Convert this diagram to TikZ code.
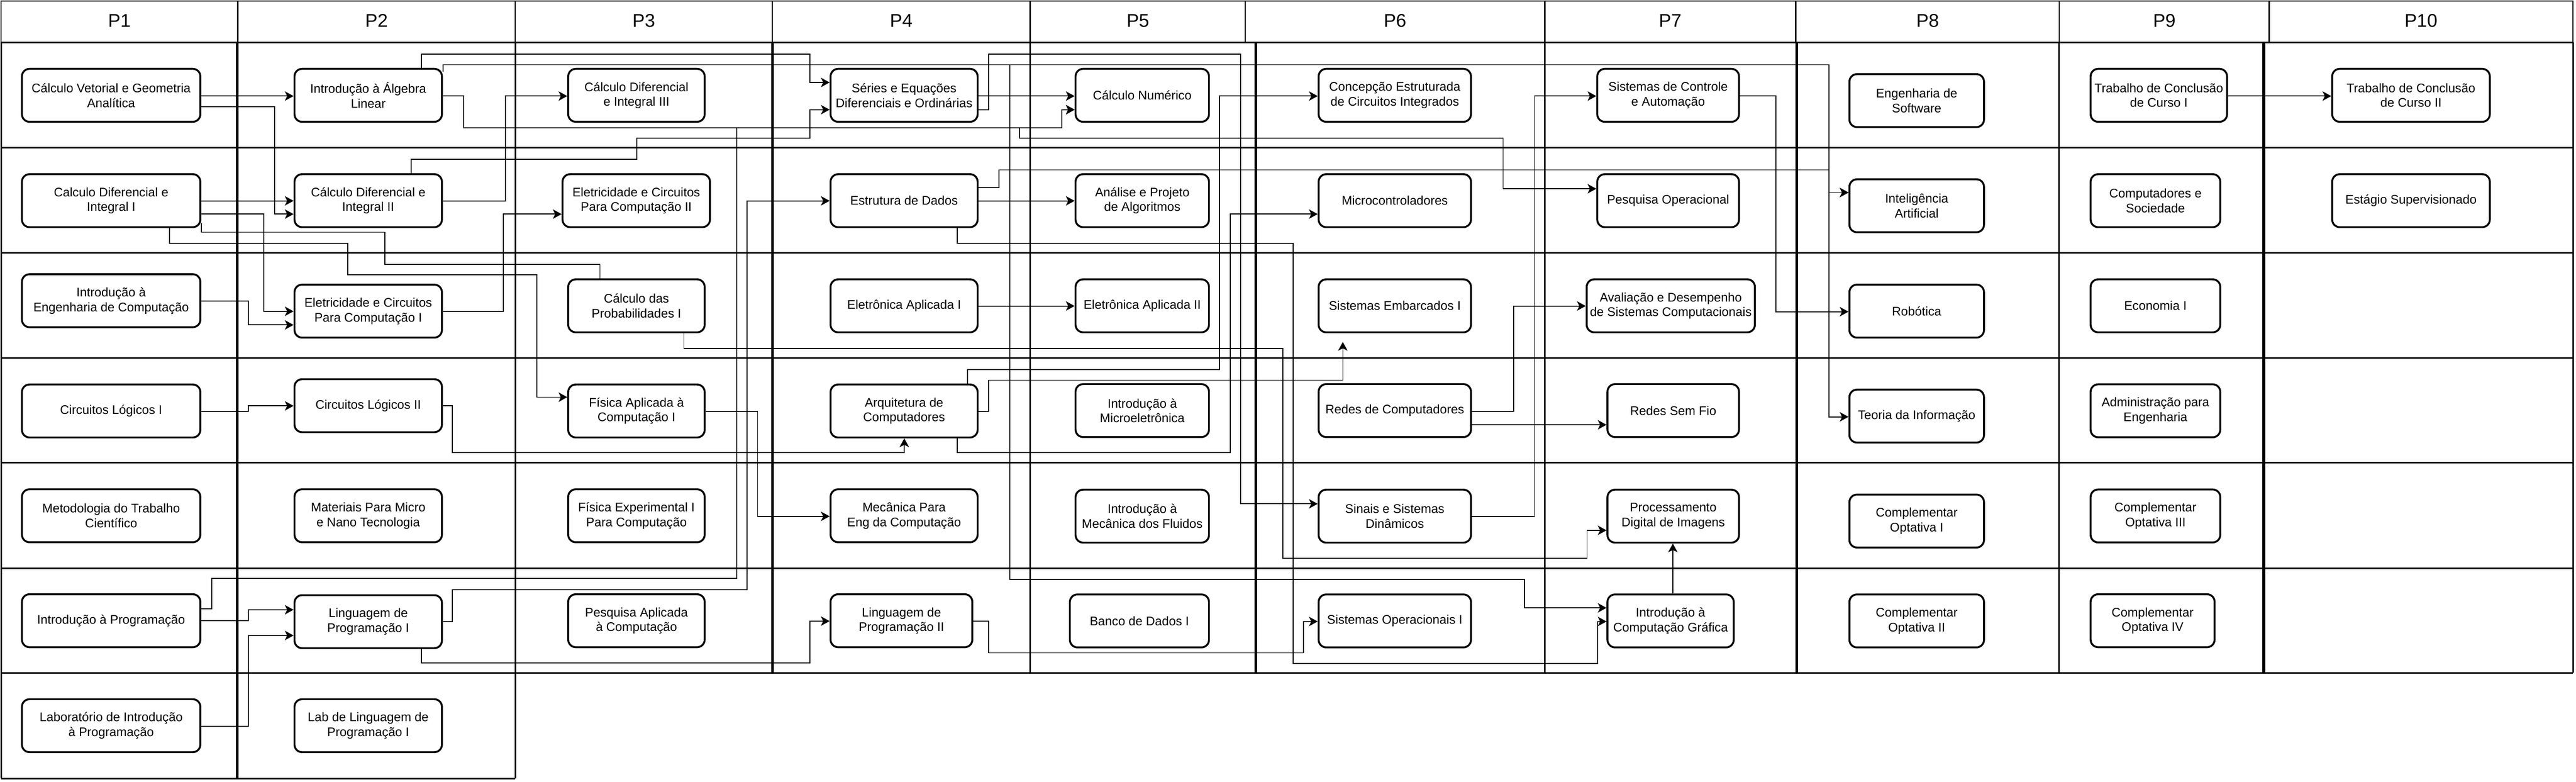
\documentclass[tikz,border=0pt]{standalone}
\usepackage{fontspec}
\setmainfont{Liberation Sans}
\usetikzlibrary{arrows.meta}

\begin{document}
\begin{tikzpicture}[x=1cm,y=-1cm,
	grade/.style={line width=0.4mm},
	gradeforte/.style={line width=0.7mm},
	disc/.style={draw,line width=0.5mm,rounded corners=2mm,fill=white,align=center,inner sep=0pt,minimum height=1.4cm,font=\fontsize{9.4}{11.1}\selectfont},
	periode/.style={font=\fontsize{13.9}{16}\selectfont},
	liga/.style={line width=0.25mm,-{Stealth[length=2.3mm,width=2.5mm,inset=0.6mm]}},
	ligasimples/.style={line width=0.25mm}]
\useasboundingbox (0,0) rectangle (68.14,20.67);
%					Tracé des en-têtes :
\draw[line width=0.35mm] (0.03,0.03) rectangle (68.06,1.12);
\draw[line width=0.35mm] (6.29,0.03) -- (6.29,1.12);
\draw[line width=0.35mm] (13.63,0.03) -- (13.63,1.12);
\draw[line width=0.35mm] (20.43,0.03) -- (20.43,1.12);
\draw[line width=0.35mm] (27.25,0.03) -- (27.25,1.12);
\draw[line width=0.35mm] (32.94,0.03) -- (32.94,1.12);
\draw[line width=0.35mm] (40.86,0.03) -- (40.86,1.12);
\draw[line width=0.35mm] (47.50,0.03) -- (47.50,1.12);
\draw[line width=0.35mm] (54.47,0.03) -- (54.47,1.12);
\draw[line width=0.35mm] (60.02,0.03) -- (60.02,1.12);
\node[periode] (h1) at (3.16,0.55) {P1};
\node[periode] (h2) at (9.96,0.55) {P2};
\node[periode] (h3) at (17.03,0.55) {P3};
\node[periode] (h4) at (23.84,0.55) {P4};
\node[periode] (h5) at (30.10,0.55) {P5};
\node[periode] (h6) at (36.90,0.55) {P6};
\node[periode] (h7) at (44.18,0.55) {P7};
\node[periode] (h8) at (50.99,0.55) {P8};
\node[periode] (h9) at (57.25,0.55) {P9};
\node[periode] (h10) at (64.04,0.55) {P10};
%					Tracé des lignes :
\draw[grade] (0.03,1.12) -- (68.06,1.12);
\draw[grade] (0.03,3.90) -- (68.06,3.90);
\draw[grade] (0.03,6.68) -- (68.06,6.68);
\draw[grade] (0.03,9.46) -- (68.06,9.46);
\draw[grade] (0.03,12.23) -- (68.06,12.23);
\draw[grade] (0.03,15.02) -- (68.06,15.02);
\draw[grade] (0.03,17.79) -- (68.06,17.79);
\draw[grade] (0.03,20.58) -- (13.63,20.58);
%					Tracé des colonnes :
\draw[grade] (0.03,1.12) -- (0.03,20.58);
\draw[gradeforte] (6.28,1.12) -- (6.28,20.58);
\draw[grade] (13.63,1.12) -- (13.63,20.58);
\draw[gradeforte] (20.43,1.12) -- (20.43,17.79);
\draw[grade] (27.25,1.12) -- (27.25,17.79);
\draw[gradeforte] (33.22,1.12) -- (33.22,17.79);
\draw[grade] (40.86,1.12) -- (40.86,17.79);
\draw[gradeforte] (47.53,1.12) -- (47.53,17.79);
\draw[grade] (54.47,1.12) -- (54.47,17.79);
\draw[gradeforte] (59.88,1.12) -- (59.88,17.79);
\draw[grade] (68.06,1.12) -- (68.06,17.79);
%					P1 :
\node[disc,minimum width=4.72cm] (cvga) at (2.94,2.52) {Cálculo Vetorial e Geometria\\Analítica};
\node[disc,minimum width=4.72cm] (cdi) at (2.94,5.305) {Calculo Diferencial e\\Integral I};
\node[disc,minimum width=4.72cm] (ieng) at (2.94,7.95) {Introdução à\\Engenharia de Computação};
\node[disc,minimum width=4.72cm] (cl1) at (2.94,10.865) {Circuitos Lógicos I};
\node[disc,minimum width=4.72cm] (mtc) at (2.94,13.635) {Metodologia do Trabalho\\Científico};
\node[disc,minimum width=4.72cm] (iprog) at (2.94,16.41) {Introdução à Programação};
\node[disc,minimum width=4.72cm] (lip) at (2.94,19.185) {Laboratório de Introdução\\à Programação};
%					P2 :
\node[disc,minimum width=3.90cm] (ial) at (9.74,2.52) {Introdução à Álgebra\\Linear};
\node[disc,minimum width=3.90cm] (cdi2) at (9.74,5.305) {Cálculo Diferencial e\\Integral II};
\node[disc,minimum width=3.90cm] (eci) at (9.74,8.225) {Eletricidade e Circuitos\\Para Computação I};
\node[disc,minimum width=3.90cm] (cl2) at (9.74,10.725) {Circuitos Lógicos II};
\node[disc,minimum width=3.90cm] (mmn) at (9.74,13.635) {Materiais Para Micro\\e Nano Tecnologia};
\node[disc,minimum width=3.90cm] (lp1) at (9.74,16.435) {Linguagem de\\Programação I};
\node[disc,minimum width=3.90cm] (llp) at (9.74,19.185) {Lab de Linguagem de\\Programação I};
%					P3 :
\node[disc,minimum width=3.61cm] (cdi3) at (16.835,2.52) {Cálculo Diferencial\\e Integral III};
\node[disc,minimum width=3.90cm] (ecii) at (16.83,5.305) {Eletricidade e Circuitos\\Para Computação II};
\node[disc,minimum width=3.61cm] (cp) at (16.835,8.085) {Cálculo das\\Probabilidades I};
\node[disc,minimum width=3.61cm] (fac) at (16.835,10.865) {Física Aplicada à\\Computação I};
\node[disc,minimum width=3.61cm] (fexp) at (16.835,13.635) {Física Experimental I\\Para Computação};
\node[disc,minimum width=3.61cm] (pac) at (16.835,16.41) {Pesquisa Aplicada\\à Computação};
%					P4 :
\node[disc,minimum width=3.89cm] (sedo) at (23.915,2.52) {Séries e Equações\\Diferenciais e Ordinárias};
\node[disc,minimum width=3.89cm] (ed) at (23.915,5.305) {Estrutura de Dados};
\node[disc,minimum width=3.89cm] (ea1) at (23.915,8.085) {Eletrônica Aplicada I};
\node[disc,minimum width=3.89cm] (arq) at (23.915,10.865) {Arquitetura de\\Computadores};
\node[disc,minimum width=3.89cm] (mec) at (23.915,13.635) {Mecânica Para\\Eng da Computação};
\node[disc,minimum width=3.75cm] (lp2) at (23.845,16.41) {Linguagem de\\Programação II};
%					P5 :
\node[disc,minimum width=3.53cm] (cn) at (30.215,2.52) {Cálculo Numérico};
\node[disc,minimum width=3.53cm] (apa) at (30.215,5.305) {Análise e Projeto\\de Algoritmos};
\node[disc,minimum width=3.53cm] (ea2) at (30.215,8.085) {Eletrônica Aplicada II};
\node[disc,minimum width=3.53cm] (imicro) at (30.215,10.855) {Introdução à\\Microeletrônica};
\node[disc,minimum width=3.53cm] (imf) at (30.215,13.645) {Introdução à\\Mecânica dos Fluidos};
\node[disc,minimum width=3.68cm] (bd1) at (30.14,16.415) {Banco de Dados I};
%					P6 :
\node[disc,minimum width=4.03cm] (cece) at (36.895,2.52) {Concepção Estruturada\\de Circuitos Integrados};
\node[disc,minimum width=4.03cm] (micro) at (36.895,5.305) {Microcontroladores};
\node[disc,minimum width=4.03cm] (se1) at (36.895,8.085) {Sistemas Embarcados I};
\node[disc,minimum width=4.03cm] (redes) at (36.895,10.855) {Redes de Computadores};
\node[disc,minimum width=4.03cm] (ssd) at (36.895,13.645) {Sinais e Sistemas\\Dinâmicos};
\node[disc,minimum width=4.03cm] (so1) at (36.895,16.415) {Sistemas Operacionais I};
%					P7 :
\node[disc,minimum width=3.75cm] (sca) at (44.125,2.52) {Sistemas de Controle\\e Automação};
\node[disc,minimum width=3.75cm] (po) at (44.125,5.305) {Pesquisa Operacional};
\node[disc,minimum width=4.45cm] (adsc) at (44.195,8.085) {Avaliação e Desempenho\\de Sistemas Computacionais};
\node[disc,minimum width=3.48cm] (rsf) at (44.26,10.855) {Redes Sem Fio};
\node[disc,minimum width=3.48cm] (pdi) at (44.26,13.645) {Processamento\\Digital de Imagens};
\node[disc,minimum width=3.34cm] (icg) at (44.19,16.415) {Introdução à\\Computação Gráfica};
%					P8 :
\node[disc,minimum width=3.56cm] (es) at (50.70,2.66) {Engenharia de\\Software};
\node[disc,minimum width=3.56cm] (ia) at (50.70,5.44) {Inteligência\\Artificial};
\node[disc,minimum width=3.56cm] (rob) at (50.70,8.225) {Robótica};
\node[disc,minimum width=3.56cm] (ti) at (50.70,11.00) {Teoria da Informação};
\node[disc,minimum width=3.56cm] (co1) at (50.70,13.775) {Complementar\\Optativa I};
\node[disc,minimum width=3.56cm] (co2) at (50.70,16.415) {Complementar\\Optativa II};
%					P9 :
\node[disc,minimum width=3.61cm] (tcc1) at (57.105,2.52) {Trabalho de Conclusão\\de Curso I};
\node[disc,minimum width=3.43cm] (cs) at (57.015,5.305) {Computadores e\\Sociedade};
\node[disc,minimum width=3.43cm] (eco) at (57.015,8.085) {Economia I};
\node[disc,minimum width=3.43cm] (adm) at (57.015,10.86) {Administração para\\Engenharia};
\node[disc,minimum width=3.43cm] (co3) at (57.015,13.64) {Complementar\\Optativa III};
\node[disc,minimum width=3.28cm] (co4) at (56.94,16.41) {Complementar\\Optativa IV};
%					P10 :
\node[disc,minimum width=4.17cm] (tcc2) at (63.775,2.52) {Trabalho de Conclusão\\de Curso II};
\node[disc,minimum width=4.17cm] (est) at (63.775,5.305) {Estágio Supervisionado};
%					Tracé des liaisons :
\draw[liga] (cvga.east |- 0,2.54) -- (ial.west |- 0,2.54);
\draw[liga] (cvga.east |- 0,2.82) -| (7.26,5.66) -- (cdi2.west |- 0,5.66);
\draw[liga] (cdi.east |- 0,5.31) -- (cdi2.west |- 0,5.31);
\draw[liga] (cdi.east |- 0,5.66) -| (6.98,8.23) -- (eci.west |- 0,8.23);
\draw[liga] (ieng.east |- 0,7.96) -| (6.57,8.59) -- (eci.west |- 0,8.59);
\draw[ligasimples] (cdi.east |- 0,5.90) |- (10.18,6.14) |- (15.87,6.99) -- (cp.north -| 15.87,0);
\draw[liga] (cdi.south -| 4.48,0) |- (9.20,6.43) |- (14.20,7.26) |- (fac.west |- 0,10.50);
\draw[liga] (cl1.east |- 0,10.87) -| (6.57,10.73) -- (cl2.west |- 0,10.73);
\draw[liga] (iprog.east |- 0,16.41) -| (6.57,16.12) -- (lp1.west |- 0,16.12);
\draw[liga] (lip.east |- 0,19.20) -| (6.57,16.80) -- (lp1.west |- 0,16.80);
\draw[liga] (ial.north -| 11.15,0) |- (21.42,1.43) |- (sedo.west |- 0,2.18);
\draw[liga] (ial.east |- 0,1.90) |- (48.38,1.71) |- (ia.west |- 0,5.09);
\draw[liga] (ial.east |- 0,1.90) |- (26.71,1.71) |- (40.32,15.32) |- (icg.west |- 0,16.07);
\draw[liga] (ial.east |- 0,2.54) -| (12.26,3.38) -| (28.09,2.90) -- (cn.west |- 0,2.90);
\draw[liga] (ial.east |- 0,2.54) -| (12.26,3.38) -| (26.97,3.65) -| (39.76,4.99) -- (po.west |- 0,4.99);
\draw[liga] (iprog.east |- 0,16.09) -| (5.60,15.29) -| (19.49,3.38) -| (28.09,2.90) -- (cn.west |- 0,2.90);
\draw[liga] (cdi2.north -| 10.87,0) |- (16.84,4.21) |- (21.42,3.65) |- (sedo.west |- 0,2.90);
\draw[liga] (cdi2.east |- 0,5.31) -| (13.37,2.54) -- (cdi3.west |- 0,2.54);
\draw[liga] (eci.east |- 0,8.23) -| (13.32,5.66) -- (ecii.west |- 0,5.66);
\draw[liga] (cl2.east |- 0,10.73) -| (11.97,11.97) -| (arq.south -| 23.92,0);
\draw[liga] (lp1.east |- 0,16.44) -| (11.97,15.59) -| (19.76,5.31) -- (ed.west |- 0,5.31);
\draw[liga] (lp1.south -| 11.15,0) |- (21.42,17.53) |- (lp2.west |- 0,16.42);
\draw[liga] (ed.east |- 0,4.96) -| (26.42,4.49) -| (48.38,5.09) -- (ia.west |- 0,5.09);
\draw[liga] (ed.east |- 0,4.96) -| (26.42,4.49) -| (48.38,11.02) -- (ti.west |- 0,11.02);
\draw[liga] (ed.east |- 0,5.31) -- (apa.west |- 0,5.31);
\draw[liga] (ed.south -| 25.32,0) |- (34.21,6.43) |- (42.26,17.54) |- (icg.west |- 0,16.43);
\draw[liga] (cp.south -| 18.09,0) |- (33.93,9.21) |- (41.98,14.76) |- (pdi.west |- 0,14.02);
\draw[liga] (ea1.east |- 0,8.09) -- (ea2.west |- 0,8.09);
\draw[liga] (sedo.east |- 0,2.54) -- (cn.west |- 0,2.54);
\draw[liga] (sedo.east |- 0,2.90) -| (26.15,1.43) -| (32.82,13.32) -- (ssd.west |- 0,13.32);
\draw[liga] (arq.north -| 25.59,0) |- (32.26,9.77) |- (cece.west |- 0,2.54);
\draw[liga,shorten >=2.3mm] (arq.east |- 0,10.87) -| (26.15,10.05) -| (se1.south -| 35.52,0);
\draw[liga] (arq.south -| 25.32,0) |- (32.54,11.97) |- (micro.west |- 0,5.66);
\draw[liga] (fac.east |- 0,10.87) -| (20.04,13.65) -- (mec.west |- 0,13.65);
\draw[liga] (lp2.east |- 0,16.42) -| (26.15,17.26) -| (34.48,16.43) -- (so1.west |- 0,16.43);
\draw[liga] (redes.east |- 0,10.87) -| (40.04,8.09) -- (adsc.west |- 0,8.09);
\draw[liga] (redes.east |- 0,11.23) -- (rsf.west |- 0,11.23);
\draw[liga] (ssd.east |- 0,13.65) -| (40.59,2.54) -- (sca.west |- 0,2.54);
\draw[liga] (sca.east |- 0,2.54) -| (46.97,8.24) -- (rob.west |- 0,8.24);
\draw[liga] (icg.north -| 44.25,0) -- (pdi.south -| 44.25,0);
\draw[liga] (tcc1.east |- 0,2.54) -- (tcc2.west |- 0,2.54);
\end{tikzpicture}
\end{document}
